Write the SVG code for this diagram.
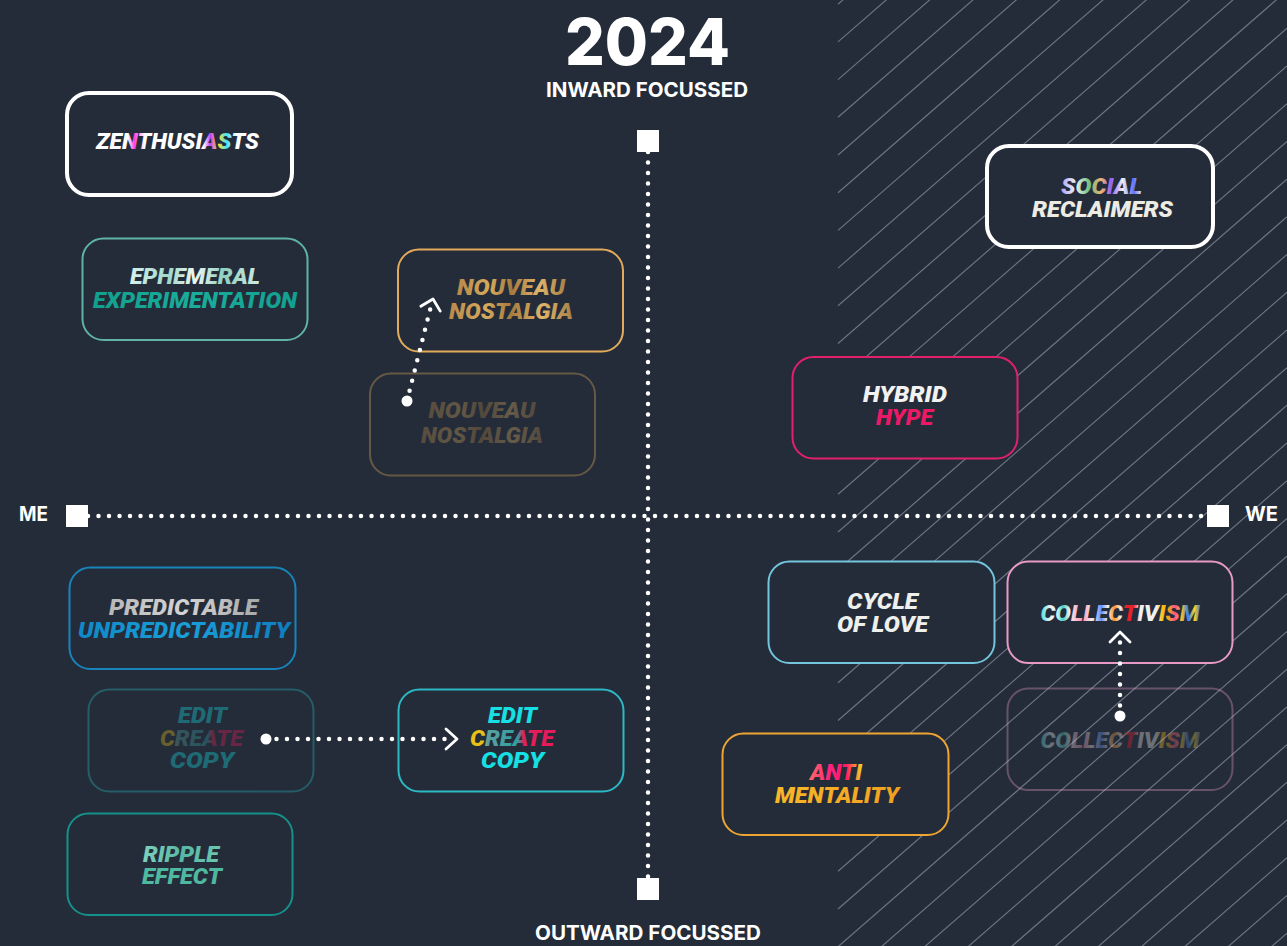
<svg xmlns="http://www.w3.org/2000/svg" width="1287" height="946" viewBox="0 0 1287 946">
  <defs>
    <style>
      .lbl{font-family:Roboto,"Liberation Sans",sans-serif;font-weight:900;font-style:italic;font-size:22px;text-anchor:middle}
      .head{font-family:Inter,"Liberation Sans",sans-serif;font-weight:700;font-size:20px;fill:#fff;text-anchor:middle}
      .box{fill:#242c39;stroke-width:2}
      .thick{stroke:#fff;stroke-width:4}
      .ghost{fill:none;stroke-width:2}
      .dots{fill:none;stroke:#fff;stroke-width:4.5;stroke-linecap:round;stroke-dasharray:0 10.5}
      .chev{fill:none;stroke:#fff;stroke-width:2.8;stroke-linecap:round;stroke-linejoin:round}
      .hatch{fill:none;stroke:#8b929c;stroke-width:1.2;opacity:.7}
      .sq{fill:#fff}
    </style>
    <linearGradient id="gZen" x1="0" x2="1" y1="0" y2="0">
      <stop offset="0" stop-color="#fff"/><stop offset="0.2" stop-color="#fff"/>
      <stop offset="0.24" stop-color="#ff40e0"/><stop offset="0.3" stop-color="#fff"/>
      <stop offset="0.66" stop-color="#fff"/><stop offset="0.7" stop-color="#c040ff"/>
      <stop offset="0.75" stop-color="#ffe030"/><stop offset="0.8" stop-color="#40e0ff"/>
      <stop offset="0.86" stop-color="#fff"/><stop offset="1" stop-color="#fff"/>
    </linearGradient>
    <linearGradient id="gEph" x1="0" x2="1" y1="0" y2="0">
      <stop offset="0" stop-color="#d8f0ec"/><stop offset="0.3" stop-color="#9fd8cc"/>
      <stop offset="0.5" stop-color="#eef6f4"/><stop offset="0.72" stop-color="#8fcfc0"/>
      <stop offset="1" stop-color="#d0ece6"/>
    </linearGradient>
    <linearGradient id="gExp" x1="0" x2="1" y1="0" y2="0">
      <stop offset="0" stop-color="#11a08e"/><stop offset="0.5" stop-color="#19ad9c"/>
      <stop offset="1" stop-color="#12a090"/>
    </linearGradient>
    <linearGradient id="gGold" x1="0" x2="1" y1="0" y2="0">
      <stop offset="0" stop-color="#b8894a"/><stop offset="0.3" stop-color="#d6a95c"/>
      <stop offset="0.5" stop-color="#a57a3e"/><stop offset="0.75" stop-color="#e0b468"/>
      <stop offset="1" stop-color="#a88048"/>
    </linearGradient>
    <linearGradient id="gSoc" x1="0" x2="1" y1="0" y2="0">
      <stop offset="0" stop-color="#b0a0ff"/><stop offset="0.18" stop-color="#f0f0f0"/>
      <stop offset="0.35" stop-color="#70c080"/><stop offset="0.5" stop-color="#f0b070"/>
      <stop offset="0.62" stop-color="#9060ff"/><stop offset="0.76" stop-color="#f0f0f0"/>
      <stop offset="0.9" stop-color="#6070ff"/><stop offset="1" stop-color="#f0f0f0"/>
    </linearGradient>
    <linearGradient id="gPred" x1="0" x2="1" y1="0" y2="0">
      <stop offset="0" stop-color="#b8b8b8"/><stop offset="0.5" stop-color="#d4d4d4"/>
      <stop offset="1" stop-color="#a8a8a8"/>
    </linearGradient>
    <linearGradient id="gUnp" x1="0" x2="1" y1="0" y2="0">
      <stop offset="0" stop-color="#0f88c8"/><stop offset="0.5" stop-color="#1aa0d8"/>
      <stop offset="1" stop-color="#0e7cc0"/>
    </linearGradient>
    <linearGradient id="gCreate" x1="0" x2="1" y1="0" y2="0">
      <stop offset="0" stop-color="#e8c018"/><stop offset="0.16" stop-color="#e8c018"/>
      <stop offset="0.2" stop-color="#5aa0a0"/><stop offset="0.55" stop-color="#2f9fa0"/>
      <stop offset="0.62" stop-color="#e0205a"/><stop offset="1" stop-color="#e8185a"/>
    </linearGradient>
    <linearGradient id="gRip" x1="0" x2="1" y1="0" y2="0">
      <stop offset="0" stop-color="#7ed0bc"/><stop offset="0.5" stop-color="#56b8a4"/>
      <stop offset="1" stop-color="#6cc8b0"/>
    </linearGradient>
    <linearGradient id="gColl" x1="0" x2="1" y1="0" y2="0">
      <stop offset="0" stop-color="#40e0e0"/><stop offset="0.06" stop-color="#f0f0f0"/>
      <stop offset="0.1" stop-color="#e0f8f8"/><stop offset="0.14" stop-color="#40d0c8"/>
      <stop offset="0.18" stop-color="#f0f0f0"/><stop offset="0.26" stop-color="#ff90b0"/>
      <stop offset="0.32" stop-color="#f0f0f0"/><stop offset="0.38" stop-color="#6090ff"/>
      <stop offset="0.42" stop-color="#f0f0f0"/><stop offset="0.46" stop-color="#ff9020"/>
      <stop offset="0.5" stop-color="#f0f0f0"/><stop offset="0.53" stop-color="#e82020"/>
      <stop offset="0.58" stop-color="#e82030"/><stop offset="0.62" stop-color="#f0f0f0"/>
      <stop offset="0.72" stop-color="#f0f0f0"/><stop offset="0.76" stop-color="#ffc010"/>
      <stop offset="0.8" stop-color="#f0a020"/><stop offset="0.84" stop-color="#ff5090"/>
      <stop offset="0.88" stop-color="#ffc020"/><stop offset="0.92" stop-color="#3080ff"/>
      <stop offset="0.96" stop-color="#ffd020"/><stop offset="1" stop-color="#3a70e0"/>
    </linearGradient>
    <linearGradient id="gAnti" x1="0" x2="1" y1="0" y2="0">
      <stop offset="0" stop-color="#ff7060"/><stop offset="0.4" stop-color="#ff2080"/>
      <stop offset="0.7" stop-color="#ff1a60"/><stop offset="1" stop-color="#f0e020"/>
    </linearGradient>
    <linearGradient id="gMent" x1="0" x2="1" y1="0" y2="0">
      <stop offset="0" stop-color="#f8b828"/><stop offset="1" stop-color="#f0a020"/>
    </linearGradient>
  </defs>

  <!-- canvas -->
  <rect width="1287" height="946" fill="#242c39"/>

  <!-- diagonal hatching over the "WE" half -->
  <path class="hatch" d="M838 4.2l449-390.6M838 41.9l449-390.6M838 79.6l449-390.6M838 117.3l449-390.6M838 155l449-390.6M838 192.7l449-390.6M838 230.4l449-390.6M838 268.1l449-390.6M838 305.8l449-390.6M838 343.5l449-390.6M838 381.2l449-390.6M838 418.9l449-390.6M838 456.6l449-390.6M838 494.3l449-390.6M838 532l449-390.6M838 569.7l449-390.6M838 607.4l449-390.6M838 645.1l449-390.6M838 682.8l449-390.6M838 720.5l449-390.6M838 758.2l449-390.6M838 795.9l449-390.6M838 833.6l449-390.6M838 871.3l449-390.6M838 909l449-390.6M838 946.7l449-390.6M838 984.4l449-390.6M838 1022.1l449-390.6M838 1059.8l449-390.6M838 1097.5l449-390.6M838 1135.2l449-390.6M838 1172.9l449-390.6M838 1210.6l449-390.6M838 1248.3l449-390.6M838 1286l449-390.6M838 1323.7l449-390.6"/>

  <!-- headings and axis labels -->
  <g id="labels">
    <text x="647.5" y="65" font-family="Inter,'Liberation Sans',sans-serif" font-weight="800" font-size="65" fill="#fff" text-anchor="middle" textLength="165" lengthAdjust="spacingAndGlyphs">2024</text>
    <text class="head" x="647" y="97" textLength="202" lengthAdjust="spacingAndGlyphs">INWARD FOCUSSED</text>
    <text class="head" x="648" y="940" textLength="226" lengthAdjust="spacingAndGlyphs">OUTWARD FOCUSSED</text>
    <text class="head" x="33.5" y="521" textLength="29" lengthAdjust="spacingAndGlyphs">ME</text>
    <text class="head" x="1261.5" y="521" textLength="33" lengthAdjust="spacingAndGlyphs">WE</text>
  </g>

  <!-- nodes -->
  <g id="zenthusiasts">
    <rect class="box thick" x="67" y="93" width="225" height="102" rx="22"/>
    <text class="lbl" x="177.5" y="149" font-size="24" fill="url(#gZen)" textLength="163" lengthAdjust="spacingAndGlyphs">ZENTHUSIASTS</text>
  </g>
  <g id="ephemeral-experimentation">
    <rect class="box" x="82.5" y="238.5" width="225" height="101.5" rx="21" stroke="#5fb3a6"/>
    <text class="lbl" x="195" y="284" fill="url(#gEph)" textLength="130" lengthAdjust="spacingAndGlyphs">EPHEMERAL</text>
    <text class="lbl" x="195" y="308" fill="url(#gExp)" textLength="204" lengthAdjust="spacingAndGlyphs">EXPERIMENTATION</text>
  </g>
  <g id="nouveau-nostalgia-prev" opacity="0.35">
    <rect class="ghost" x="370" y="373.5" width="225" height="102" rx="21" stroke="#e3aa5c"/>
    <text class="lbl" x="482" y="418" fill="url(#gGold)" textLength="107" lengthAdjust="spacingAndGlyphs">NOUVEAU</text>
    <text class="lbl" x="482" y="443" fill="url(#gGold)" textLength="122" lengthAdjust="spacingAndGlyphs">NOSTALGIA</text>
  </g>
  <g id="nouveau-nostalgia">
    <rect class="box" x="398" y="249.5" width="225" height="102" rx="21" stroke="#e3aa5c"/>
    <text class="lbl" x="511" y="295" fill="url(#gGold)" textLength="108" lengthAdjust="spacingAndGlyphs">NOUVEAU</text>
    <text class="lbl" x="511" y="319" fill="url(#gGold)" textLength="124" lengthAdjust="spacingAndGlyphs">NOSTALGIA</text>
  </g>
  <g id="hybrid-hype">
    <rect class="box" x="792.5" y="357" width="225" height="101.5" rx="21" stroke="#e3206c"/>
    <text class="lbl" x="905" y="402" fill="#f2f2f2" textLength="84" lengthAdjust="spacingAndGlyphs">HYBRID</text>
    <text class="lbl" x="904.5" y="425" fill="#ec1a66" textLength="57" lengthAdjust="spacingAndGlyphs">HYPE</text>
  </g>
  <g id="social-reclaimers">
    <rect class="box thick" x="987" y="146" width="226" height="101" rx="22"/>
    <text class="lbl" x="1101.5" y="194" fill="url(#gSoc)" textLength="81" lengthAdjust="spacingAndGlyphs">SOCIAL</text>
    <text class="lbl" x="1102.5" y="217" fill="#ecece4" textLength="141" lengthAdjust="spacingAndGlyphs">RECLAIMERS</text>
  </g>
  <g id="predictable-unpredictability">
    <rect class="box" x="69.5" y="567.5" width="226" height="101.5" rx="21" stroke="#1884bb"/>
    <text class="lbl" x="183.5" y="615" fill="url(#gPred)" textLength="149" lengthAdjust="spacingAndGlyphs">PREDICTABLE</text>
    <text class="lbl" x="184" y="638" fill="url(#gUnp)" textLength="212" lengthAdjust="spacingAndGlyphs">UNPREDICTABILITY</text>
  </g>
  <g id="edit-create-copy-prev" opacity="0.35">
    <rect class="ghost" x="88.5" y="689.5" width="225" height="102" rx="21" stroke="#2cb8c4"/>
    <text class="lbl" x="202.5" y="723" fill="#16e0e4" textLength="49" lengthAdjust="spacingAndGlyphs">EDIT</text>
    <text class="lbl" x="201.5" y="746" fill="url(#gCreate)" textLength="83" lengthAdjust="spacingAndGlyphs">CREATE</text>
    <text class="lbl" x="202" y="768" fill="#16e0e4" textLength="64" lengthAdjust="spacingAndGlyphs">COPY</text>
  </g>
  <g id="edit-create-copy">
    <rect class="box" x="398.5" y="689.5" width="225" height="102" rx="21" stroke="#2cb8c4"/>
    <text class="lbl" x="512.5" y="723" fill="#16e0e4" textLength="49" lengthAdjust="spacingAndGlyphs">EDIT</text>
    <text class="lbl" x="512" y="746" fill="url(#gCreate)" textLength="84" lengthAdjust="spacingAndGlyphs">CREATE</text>
    <text class="lbl" x="512.5" y="768" fill="#16e0e4" textLength="63" lengthAdjust="spacingAndGlyphs">COPY</text>
  </g>
  <g id="ripple-effect">
    <rect class="box" x="67.5" y="813.5" width="225" height="101.5" rx="21" stroke="#14918a"/>
    <text class="lbl" x="181" y="862" fill="url(#gRip)" textLength="76" lengthAdjust="spacingAndGlyphs">RIPPLE</text>
    <text class="lbl" x="182" y="884" fill="#4fb8a0" textLength="80" lengthAdjust="spacingAndGlyphs">EFFECT</text>
  </g>
  <g id="cycle-of-love">
    <rect class="box" x="768.5" y="561.5" width="226" height="101.5" rx="21" stroke="#72c5dc"/>
    <text class="lbl" x="882.5" y="609" fill="#eef0ee" textLength="71" lengthAdjust="spacingAndGlyphs">CYCLE</text>
    <text class="lbl" x="882.5" y="632" fill="#eef0ee" textLength="91" lengthAdjust="spacingAndGlyphs">OF LOVE</text>
  </g>
  <g id="collectivism-prev" opacity="0.35">
    <rect class="ghost" x="1007.5" y="688.5" width="225" height="101.5" rx="21" stroke="#e89ac6"/>
    <text class="lbl" x="1120" y="748" fill="url(#gColl)" textLength="159" lengthAdjust="spacingAndGlyphs">COLLECTIVISM</text>
  </g>
  <g id="collectivism">
    <rect class="box" x="1007.5" y="561.5" width="225" height="101.5" rx="21" stroke="#e89ac6"/>
    <text class="lbl" x="1120" y="621" fill="url(#gColl)" textLength="159" lengthAdjust="spacingAndGlyphs">COLLECTIVISM</text>
  </g>
  <g id="anti-mentality">
    <rect class="box" x="722.5" y="733.5" width="226" height="101.5" rx="21" stroke="#efa532"/>
    <text class="lbl" x="836" y="780" fill="url(#gAnti)" textLength="52" lengthAdjust="spacingAndGlyphs">ANTI</text>
    <text class="lbl" x="837" y="803" fill="url(#gMent)" textLength="124" lengthAdjust="spacingAndGlyphs">MENTALITY</text>
  </g>

  <!-- axes and movement arrows -->
  <g id="connectors">
    <path class="dots" d="M648 152V878"/>
    <path class="dots" d="M88 516H1207"/>
    <rect class="sq" x="637" y="130" width="22" height="22"/>
    <rect class="sq" x="637" y="878" width="22" height="22"/>
    <rect class="sq" x="66" y="505" width="22" height="22"/>
    <rect class="sq" x="1207" y="505" width="22" height="22"/>

    <path class="dots" d="M407 401L431 306"/>
    <circle cx="407" cy="401" r="5.5" fill="#fff"/>
    <path class="chev" d="M-10-10L0 0L-10 10" transform="translate(433 299) rotate(-75.8)"/>

    <path class="dots" d="M266 739H451"/>
    <circle cx="266" cy="739" r="5.5" fill="#fff"/>
    <path class="chev" d="M-11-10L0 0L-11 10" transform="translate(457 739)"/>

    <path class="dots" d="M1120 716V642"/>
    <circle cx="1120" cy="716" r="5.5" fill="#fff"/>
    <path class="chev" d="M-10-10L0 0L-10 10" transform="translate(1120 632) rotate(-90)"/>
  </g>
</svg>
